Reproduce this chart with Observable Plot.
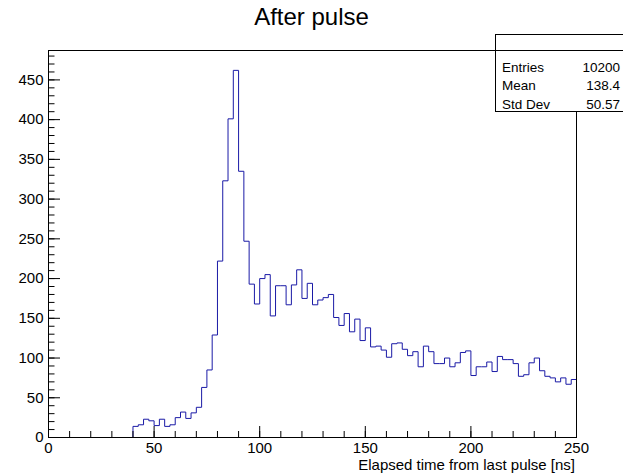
<!DOCTYPE html>
<html><head><meta charset="utf-8">
<script src="https://cdn.jsdelivr.net/npm/d3@7"></script>
<script src="https://cdn.jsdelivr.net/npm/@observablehq/plot@0.6"></script>
<style>
html,body{margin:0;padding:0;background:#fff;}
#fig{position:relative;width:623px;height:476px;overflow:hidden;font-family:"Liberation Sans",Arial,Helvetica,sans-serif;color:#000;}
#fig svg{position:absolute;left:0;top:0;}
#title{position:absolute;left:0;top:3px;width:623px;text-align:center;font-size:24px;line-height:28px;}
#xlabel{position:absolute;right:48px;top:459px;font-size:15px;line-height:12px;white-space:nowrap;}
#stats{position:absolute;left:495px;top:34px;width:140px;height:76px;background:#fff;border:1px solid #000;font-size:13.5px;}
#stats .hdr{position:absolute;left:0;top:0;width:100%;height:15px;border-bottom:1px solid #000;}
#stats .row{position:absolute;left:6px;width:118px;height:18px;line-height:18px;}
#stats .row .v{position:absolute;right:0;top:0;}
</style></head>
<body>
<div id="fig"></div>
<script>
const title = "After pulse";
const xLabel = "Elapsed time from last pulse [ns]";
const binLow = 0;
const binWidth = 2.5;
const counts = [
  0,0,0,0,0,0,0,0,0,0,0,0,0,0,0,0,
  14,16,23,21,15,23,14,16,25,32,24,31,38,63,85,129,
  222,323,401,462,335,247,193,168,
  200,205,153,191,191,167,192,211,175,194,167,173,176,180,
  151,141,156,133,149,122,138,114,115,110,101,118,119,111,103,
  108,89,115,108,93,93,100,89,94,107,109,
  78,89,89,95,83,102,98,98,93,77,79,94,100,84,77,75,70,75,67,73
];
const xMajor = [0, 50, 100, 150, 200, 250];
const xMinor = [0,10,20,30,40,50,60,70,80,90,100,110,120,130,140,150,160,170,180,190,200,210,220,230,240,250];
const yMajor = [0, 50, 100, 150, 200, 250, 300, 350, 400, 450];
const yMinor = [0,10,20,30,40,50,60,70,80,90,100,110,120,130,140,150,160,170,180,190,200,210,220,230,240,250,260,270,280,290,300,310,320,330,340,350,360,370,380,390,400,410,420,430,440,450,460,470,480];
const yMax = 487;
const statLabels = ["Entries", "Mean", "Std Dev"];
const statValues = ["10200", "138.4", "50.57"];

const W = 623, H = 476, mL = 48, mR = 47, mT = 50, mB = 39;
const innerW = W - mL - mR, innerH = H - mT - mB;

const steps = counts.map((c, i) => ({x: binLow + i * binWidth, y: c}));
steps.push({x: binLow + counts.length * binWidth, y: 0});

const font = '"Liberation Sans",Arial,Helvetica,sans-serif';
const chart = Plot.plot({
  width: W, height: H,
  marginLeft: mL, marginRight: mR, marginTop: mT, marginBottom: mB,
  style: {fontFamily: font, fontSize: "15px", background: "transparent", color: "#000", overflow: "visible"},
  x: {domain: [0, 250]},
  y: {domain: [0, yMax]},
  marks: [
    Plot.line(steps, {x: "x", y: "y", curve: "step-after", stroke: "#1a1aa6", strokeWidth: 1}),
    Plot.frame({stroke: "#000"}),
    Plot.tickX(xMinor, {x: d => d, stroke: "#000", insetTop: innerH - 6}),
    Plot.tickX(xMajor, {x: d => d, stroke: "#000", insetTop: innerH - 11}),
    Plot.tickY(yMinor, {y: d => d, stroke: "#000", insetRight: innerW - 6.5}),
    Plot.tickY(yMajor, {y: d => d, stroke: "#000", insetRight: innerW - 12}),
    Plot.axisX({ticks: xMajor, tickSize: 0, tickPadding: 4.5, label: null, tickFormat: d => String(d)}),
    Plot.axisY({ticks: yMajor, tickSize: 0, tickPadding: 5, label: null, tickFormat: d => String(d)})
  ]
});
const fig = document.getElementById("fig");
fig.appendChild(chart);

const t = document.createElement("div");
t.id = "title"; t.textContent = title;
fig.appendChild(t);

const xl = document.createElement("div");
xl.id = "xlabel"; xl.textContent = xLabel;
fig.appendChild(xl);

const st = document.createElement("div");
st.id = "stats";
const hdr = document.createElement("div"); hdr.className = "hdr"; st.appendChild(hdr);
statLabels.forEach((lab, i) => {
  const r = document.createElement("div");
  r.className = "row";
  r.style.top = (24 + i * 18.3) + "px";
  const l = document.createElement("span"); l.textContent = lab;
  const v = document.createElement("span"); v.className = "v"; v.textContent = statValues[i];
  r.appendChild(l); r.appendChild(v);
  st.appendChild(r);
});
fig.appendChild(st);
</script>
</body></html>
